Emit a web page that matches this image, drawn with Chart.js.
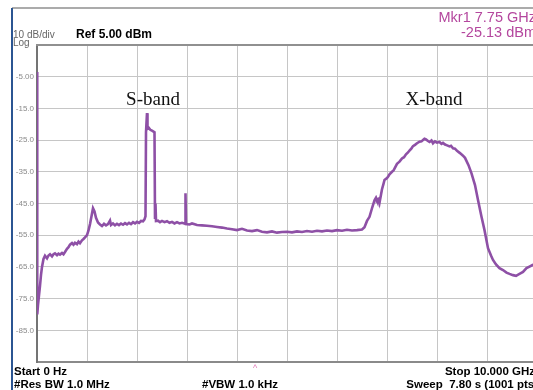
<!DOCTYPE html>
<html>
<head>
<meta charset="utf-8">
<script src="https://cdn.jsdelivr.net/npm/chart.js@4.4.1/dist/chart.umd.min.js"></script>
<style>
  html, body { margin: 0; padding: 0; background: #fff; overflow: hidden; }
  #chart { display: block; }
</style>
</head>
<body>
<canvas id="chart" width="545" height="390" style="width:545px;height:390px"></canvas>
<script>
"use strict";

// trace readings, frequency in GHz and level in dBm
const freqGHz = [
  0.000, 0.005, 0.02, 0.04, 0.06, 0.08, 0.10, 0.13, 0.16, 0.20,
  0.23, 0.26, 0.30, 0.33, 0.36, 0.40, 0.43, 0.46, 0.50, 0.53,
  0.56, 0.60, 0.63, 0.66, 0.70, 0.73, 0.76, 0.80, 0.83, 0.86,
  0.90, 0.93, 0.96, 1.00, 1.03, 1.06, 1.09, 1.12, 1.15, 1.18,
  1.22, 1.26, 1.30, 1.34, 1.38, 1.42, 1.46, 1.48, 1.52, 1.56,
  1.60, 1.64, 1.68, 1.72, 1.76, 1.80, 1.84, 1.88, 1.92, 1.96,
  2.00, 2.04, 2.08, 2.12, 2.15, 2.17, 2.18, 2.20, 2.21, 2.24,
  2.27, 2.30, 2.33, 2.35, 2.36, 2.37, 2.38, 2.42, 2.46, 2.50,
  2.55, 2.60, 2.65, 2.70, 2.75, 2.80, 2.85, 2.90, 2.96, 2.97,
  2.98, 3.05, 3.10, 3.20, 3.30, 3.40, 3.50, 3.60, 3.70, 3.80,
  3.90, 4.00, 4.10, 4.20, 4.30, 4.40, 4.50, 4.60, 4.70, 4.80,
  4.90, 5.00, 5.10, 5.20, 5.30, 5.40, 5.50, 5.60, 5.70, 5.80,
  5.90, 6.00, 6.10, 6.20, 6.30, 6.40, 6.50, 6.55, 6.60, 6.65,
  6.70, 6.75, 6.78, 6.80, 6.83, 6.85, 6.90, 6.93, 6.95, 7.00,
  7.03, 7.05, 7.10, 7.13, 7.15, 7.20, 7.25, 7.30, 7.34, 7.38,
  7.42, 7.45, 7.49, 7.52, 7.56, 7.60, 7.65, 7.69, 7.72, 7.75,
  7.78, 7.82, 7.85, 7.89, 7.92, 7.96, 8.00, 8.05, 8.09, 8.12,
  8.16, 8.19, 8.25, 8.28, 8.32, 8.36, 8.40, 8.46, 8.52, 8.56,
  8.63, 8.69, 8.76, 8.82, 8.89, 8.95, 9.02, 9.08, 9.12, 9.18,
  9.25, 9.32, 9.39, 9.45, 9.52, 9.58, 9.65, 9.72, 9.79, 9.85,
  9.91, 10.00
];
const levelDbm = [
  -3.5, -80.0, -77.0, -74.0, -71.0, -67.5, -65.0, -62.5, -61.5, -62.3,
  -61.4, -61.0, -61.7, -61.0, -60.7, -61.3, -60.8, -61.1, -60.6, -61.0,
  -60.3, -59.3, -58.8, -58.0, -57.5, -58.0, -57.4, -57.8, -57.0, -57.5,
  -56.6, -56.2, -55.7, -55.0, -53.5, -51.5, -49.0, -46.5, -47.5, -49.5,
  -51.0, -51.6, -52.1, -51.4, -51.9, -51.5, -50.4, -51.8, -51.3, -51.9,
  -51.4, -51.8, -51.3, -51.7, -51.2, -51.6, -51.1, -51.5, -50.9, -51.3,
  -50.8, -51.1, -50.5, -50.6, -50.0, -49.0, -22.5, -16.5, -21.5, -21.2,
  -21.8, -22.0, -22.3, -22.5, -49.5, -45.0, -50.5, -50.4, -50.9, -50.5,
  -50.9, -50.6, -51.1, -50.8, -51.3, -50.9, -51.3, -51.1, -51.4, -41.8,
  -51.5, -51.6, -51.3, -51.8, -51.9, -52.0, -52.2, -52.4, -52.6, -52.9,
  -53.1, -53.4, -53.0, -53.5, -53.7, -53.4, -53.9, -54.1, -53.8, -54.2,
  -54.0, -53.9, -54.1, -53.8, -54.0, -53.7, -53.9, -53.6, -53.8, -53.5,
  -53.7, -53.4, -53.6, -53.3, -53.5, -53.4, -53.2, -52.5, -50.5, -49.2,
  -46.5, -44.0, -43.2, -44.0, -43.6, -44.8, -40.5, -38.8, -37.6, -37.0,
  -36.3, -35.8, -35.0, -34.6, -34.0, -32.5, -31.8, -30.8, -30.4, -29.5,
  -28.9, -28.3, -27.6, -26.9, -26.5, -26.0, -25.5, -25.4, -25.0, -24.6,
  -24.8, -25.3, -25.6, -25.1, -26.0, -25.4, -25.8, -25.6, -26.2, -25.9,
  -26.4, -26.6, -27.0, -26.8, -27.6, -27.7, -28.4, -29.1, -29.9, -30.6,
  -32.9, -35.5, -39.2, -43.9, -49.2, -53.4, -59.1, -61.4, -62.8, -64.2,
  -65.4, -66.0, -66.8, -67.2, -67.6, -67.8, -67.2, -66.6, -65.4, -64.9,
  -64.4, -64.0
];

const yTickValues = [-5, -15, -25, -35, -45, -55, -65, -75, -85];
const yTickLabels = ["-5.00", "-15.0", "-25.0", "-35.0", "-45.0", "-55.0", "-65.0", "-75.0", "-85.0"];

const bandLabels = ["S-band", "X-band"];
const headerTexts = ["10 dB/div", "Log", "Ref 5.00 dBm"];
const markerTexts = ["Mkr1 7.75 GHz", "-25.13 dBm"];
const footerTexts = ["Start 0 Hz", "#Res BW 1.0 MHz", "#VBW 1.0 kHz", "Stop 10.000 GHz", "Sweep  7.80 s (1001 pts)"];

const traceColor = "#8e50a6";
const markerColor = "#b4479e";
const sansFont = '"Liberation Sans", Arial, sans-serif';

const points = [];
for (let i = 0; i < freqGHz.length; i++) {
  points.push({ x: freqGHz[i], y: levelDbm[i] });
}

// frame, header, footer and band labels
const decorPlugin = {
  id: "decor",
  afterDraw(chart) {
    const ctx = chart.ctx;
    const a = chart.chartArea;
    const sx = chart.scales.x;
    ctx.save();

    // outer frame
    ctx.strokeStyle = "#8f8f8f";
    ctx.lineWidth = 1.5;
    ctx.beginPath();
    ctx.moveTo(12, 8);
    ctx.lineTo(chart.width, 8);
    ctx.stroke();
    ctx.strokeStyle = "#2b5592";
    ctx.lineWidth = 2;
    ctx.beginPath();
    ctx.moveTo(12, 8);
    ctx.lineTo(12, chart.height);
    ctx.stroke();

    // plot top border
    ctx.strokeStyle = "#909090";
    ctx.lineWidth = 2;
    ctx.beginPath();
    ctx.moveTo(a.left - 1, a.top);
    ctx.lineTo(chart.width, a.top);
    ctx.stroke();

    // header
    ctx.textBaseline = "alphabetic";
    ctx.textAlign = "left";
    ctx.fillStyle = "#666";
    ctx.font = "10px " + sansFont;
    ctx.fillText(headerTexts[0], 13, 38);
    ctx.fillText(headerTexts[1], 13, 46);
    ctx.fillStyle = "#000";
    ctx.font = "bold 12px " + sansFont;
    ctx.fillText(headerTexts[2], 76, 38);

    ctx.textAlign = "right";
    ctx.fillStyle = markerColor;
    ctx.font = "14.5px " + sansFont;
    ctx.fillText(markerTexts[0], 536, 22);
    ctx.fillText(markerTexts[1], 536, 37);

    // band labels
    ctx.textAlign = "center";
    ctx.fillStyle = "#111";
    ctx.font = '19px "Liberation Serif", "Times New Roman", serif';
    ctx.fillText(bandLabels[0], sx.getPixelForValue(2.32), 105);
    ctx.fillText(bandLabels[1], sx.getPixelForValue(7.94), 105);

    // marker caret under the axis
    ctx.fillStyle = "#e07ab8";
    ctx.font = "9px " + sansFont;
    ctx.fillText("^", 255, a.bottom + 9);

    // footer
    ctx.textAlign = "left";
    ctx.fillStyle = "#000";
    ctx.font = "bold 11.5px " + sansFont;
    ctx.fillText(footerTexts[0], 14, 375);
    ctx.fillText(footerTexts[1], 14, 388);
    ctx.fillText(footerTexts[2], 202, 388);
    ctx.textAlign = "right";
    ctx.fillText(footerTexts[3], 535, 375);
    ctx.fillText(footerTexts[4], 538, 388);

    ctx.restore();
  }
};

const data = {
  datasets: [
    {
      label: "trace",
      data: points,
      borderColor: traceColor,
      borderWidth: 2.6,
      pointRadius: 0,
      tension: 0,
      fill: false,
    },
  ],
};

const config = {
  type: "line",
  data: data,
  options: {
    responsive: false,
    animation: false,
    devicePixelRatio: 1,
    layout: { padding: { left: 0, top: 45, right: 8, bottom: 28 } },
    plugins: {
      legend: { display: false },
      tooltip: { enabled: false },
    },
    scales: {
      x: {
        type: "linear",
        min: 0,
        max: 10,
        ticks: { display: false, stepSize: 1 },
        grid: { color: "#c6c6c6", lineWidth: 1, drawTicks: false },
        border: { display: true, color: "#8a8a8a", width: 2 },
        afterFit: (s) => { s.height = 0; },
      },
      y: {
        type: "linear",
        min: -95,
        max: 5,
        ticks: {
          stepSize: 10,
          padding: 3,
          color: "#8a8a8a",
          font: { family: sansFont, size: 8 },
          callback: (v) => {
            const i = yTickValues.indexOf(v);
            return i >= 0 ? yTickLabels[i] : "";
          },
        },
        grid: { color: "#c6c6c6", lineWidth: 1, drawTicks: false },
        border: { display: true, color: "#747474", width: 2 },
        afterFit: (s) => { s.width = 37; },
      },
    },
  },
  plugins: [decorPlugin],
};

const traceChart = new Chart(document.getElementById("chart"), config);
</script>
</body>
</html>
